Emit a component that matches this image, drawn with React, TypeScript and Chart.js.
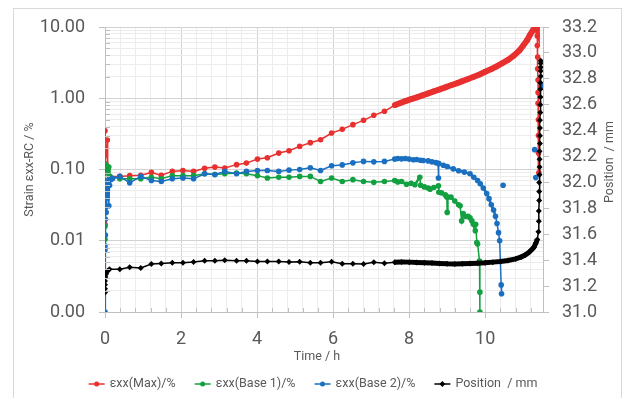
import React, { useEffect, useRef } from 'react';
import { Chart, registerables } from 'chart.js';

Chart.register(...registerables);

// ---------- data ----------
const COLORS = { max: '#e8302f', base1: '#12a040', base2: '#1a6fc0', pos: '#000000' };
const LEGEND_LABELS = ['\u03b5xx(Max)/%', '\u03b5xx(Base 1)/%', '\u03b5xx(Base 2)/%', 'Position  / mm'];
const X_TITLE = 'Time / h';
const Y_TITLE = 'Strain \u03b5xx-RC / %';
const Y1_TITLE = 'Position  / mm';

const xTickValues = [0, 0.4, 0.8, 1.2, 1.6, 2, 2.4, 2.8, 3.2, 3.6, 4, 4.4, 4.8, 5.2, 5.6, 6, 6.4, 6.8, 7.2, 7.6, 8, 8.4, 8.8, 9.2, 9.6, 10, 10.4, 10.8, 11.2];
const xMajorTicks = [0, 2, 4, 6, 8, 10];
const yDecades = [0.001, 0.01, 0.1, 1, 10];
const yMinorMultipliers = [2, 3, 4, 5, 6, 7, 8, 9];

// shared sampling times (sparse part of the test)
const sparseT = [0.39, 0.65, 0.94, 1.22, 1.48, 1.77, 2.05, 2.33, 2.62, 2.89, 3.15, 3.46, 3.72, 4.01, 4.27, 4.57, 4.84, 5.12, 5.4, 5.67, 5.96, 6.24, 6.52, 6.8, 7.07, 7.35];

// εxx(Max)
const maxStartT = [0, 0, 0, 0, 0.02, 0.06, 0.07, 0.12];
const maxStartV = [0.017, 0.05, 0.16, 0.35, 0.12, 0.26, 0.1, 0.08];
const maxSparse = [0.08, 0.082, 0.083, 0.091, 0.083, 0.094, 0.097, 0.094, 0.104, 0.108, 0.105, 0.117, 0.123, 0.14, 0.146, 0.17, 0.183, 0.211, 0.238, 0.262, 0.325, 0.366, 0.426, 0.49, 0.576, 0.656];
const maxDenseT = [7.62, 7.75, 7.9, 8.05, 8.2, 8.35, 8.5, 8.65, 8.8, 8.95, 9.1, 9.25, 9.4, 9.55, 9.7, 9.85, 10.0, 10.15, 10.3, 10.45, 10.6, 10.75, 10.9, 11.0, 11.1, 11.18, 11.25, 11.3, 11.34, 11.36, 11.37, 11.37, 11.38, 11.38, 11.39, 11.39, 11.39, 11.4, 11.4, 11.4, 11.41];
const maxDenseV = [0.8, 0.85, 0.91, 0.97, 1.03, 1.1, 1.17, 1.25, 1.33, 1.42, 1.52, 1.62, 1.74, 1.86, 2.0, 2.15, 2.35, 2.55, 2.8, 3.1, 3.45, 3.95, 4.7, 5.5, 6.5, 7.8, 8.9, 9.8, 10.3, 9.6, 7.5, 5.5, 3.8, 2.6, 1.8, 1.2, 0.85, 0.5, 0.3, 0.17, 0.09];

// εxx(Base 1)
const base1StartT = [0, 0, 0.01, 0.01, 0.02, 0.02, 0.04, 0.06, 0.08, 0.1, 0.13];
const base1StartV = [0.0105, 0.016, 0.03, 0.06, 0.09, 0.117, 0.1, 0.11, 0.095, 0.108, 0.08];
const base1Sparse = [0.074, 0.074, 0.074, 0.078, 0.074, 0.082, 0.082, 0.082, 0.087, 0.085, 0.087, 0.089, 0.087, 0.082, 0.076, 0.078, 0.078, 0.08, 0.08, 0.068, 0.076, 0.068, 0.072, 0.068, 0.066, 0.068];
const base1DenseT = [7.62, 7.7, 7.8, 7.93, 8.05, 8.15, 8.28, 8.3, 8.4, 8.5, 8.55, 8.65, 8.77, 8.78, 8.85, 8.95, 8.99, 9.0, 9.02, 9.1, 9.2, 9.3, 9.34, 9.38, 9.42, 9.47, 9.55, 9.6, 9.65, 9.69, 9.74, 9.75, 9.78, 9.8, 9.85, 9.86, 9.86];
const base1DenseV = [0.07, 0.067, 0.068, 0.062, 0.064, 0.061, 0.078, 0.06, 0.057, 0.055, 0.053, 0.056, 0.059, 0.048, 0.047, 0.044, 0.041, 0.025, 0.041, 0.041, 0.036, 0.032, 0.031, 0.019, 0.024, 0.022, 0.022, 0.021, 0.019, 0.017, 0.0138, 0.017, 0.0094, 0.009, 0.0052, 0.0019, 0.001];

// εxx(Base 2)
const base2StartT = [0, 0, 0, 0.01, 0.01, 0.02, 0.02, 0.03, 0.04, 0.05, 0.06, 0.08, 0.1, 0.12, 0.15, 0.2];
const base2StartV = [0.001, 0.0075, 0.0085, 0.012, 0.02, 0.03, 0.045, 0.025, 0.055, 0.065, 0.04, 0.07, 0.031, 0.06, 0.072, 0.075];
const base2Sparse = [0.08, 0.065, 0.08, 0.07, 0.068, 0.074, 0.076, 0.074, 0.087, 0.085, 0.094, 0.087, 0.094, 0.097, 0.097, 0.094, 0.098, 0.1, 0.106, 0.097, 0.113, 0.116, 0.124, 0.13, 0.128, 0.13];
const base2DenseT = [7.62, 7.7, 7.8, 7.9, 8.0, 8.11, 8.2, 8.3, 8.37, 8.5, 8.6, 8.7, 8.76, 8.77, 8.78, 8.9, 9.0, 9.16, 9.3, 9.45, 9.6, 9.7, 9.8, 9.87, 9.95, 10.04, 10.1, 10.16, 10.22, 10.27, 10.31, 10.35, 10.38, 10.42, 10.43];
const base2DenseV = [0.14, 0.143, 0.141, 0.143, 0.14, 0.137, 0.138, 0.135, 0.134, 0.132, 0.128, 0.125, 0.122, 0.076, 0.121, 0.115, 0.11, 0.102, 0.096, 0.092, 0.087, 0.078, 0.07, 0.063, 0.055, 0.046, 0.039, 0.032, 0.027, 0.022, 0.0175, 0.013, 0.01, 0.0024, 0.0018];
const base2IsolatedT = [10.47, 11.3, 11.33, 11.48];
const base2IsolatedV = [0.06, 0.19, 0.077, 1.5];

// Position / mm
const posStartT = [0, 0, 0, 0, 0.01, 0.02, 0.03, 0.05, 0.08, 0.12];
const posStartV = [31.15, 31.18, 31.21, 31.24, 31.27, 31.29, 31.3, 31.31, 31.32, 31.33];
const posSparse = [31.33, 31.345, 31.34, 31.37, 31.375, 31.38, 31.38, 31.386, 31.396, 31.396, 31.4, 31.395, 31.395, 31.39, 31.39, 31.39, 31.386, 31.388, 31.381, 31.381, 31.388, 31.373, 31.373, 31.371, 31.384, 31.376];
const posDenseT = [7.62, 7.8, 8.0, 8.2, 8.4, 8.6, 8.8, 9.0, 9.2, 9.4, 9.6, 9.8, 10.0, 10.2, 10.4, 10.6, 10.8, 10.95, 11.05, 11.15, 11.22, 11.28, 11.33, 11.37, 11.4];
const posDenseV = [31.384, 31.386, 31.385, 31.383, 31.38, 31.378, 31.375, 31.372, 31.371, 31.372, 31.374, 31.377, 31.38, 31.385, 31.39, 31.398, 31.41, 31.425, 31.44, 31.46, 31.48, 31.5, 31.53, 31.56, 31.62];
const posClimbT = [11.41, 11.41, 11.42, 11.42, 11.42, 11.43, 11.43, 11.43, 11.43, 11.44, 11.44, 11.44, 11.44, 11.45, 11.45, 11.45, 11.45, 11.45, 11.46, 11.46, 11.46, 11.46, 11.46];
const posClimbV = [31.7, 31.78, 31.86, 31.93, 32.0, 32.06, 32.12, 32.18, 32.24, 32.3, 32.36, 32.42, 32.48, 32.54, 32.6, 32.66, 32.72, 32.77, 32.82, 32.86, 32.89, 32.92, 32.94];

// ---------- helpers ----------
type Pt = { x: number; y: number | null };
const zip = (ts: number[], vs: number[]): Pt[] => ts.map((t, i) => ({ x: t, y: vs[i] }));
const isolated = (ts: number[], vs: number[]): Pt[] =>
  ts.flatMap((t, i) => [{ x: t, y: null }, { x: t, y: vs[i] }]);

const maxData = [...zip(maxStartT, maxStartV), ...zip(sparseT, maxSparse), ...zip(maxDenseT, maxDenseV)];
const base1Data = [...zip(base1StartT, base1StartV), ...zip(sparseT, base1Sparse), ...zip(base1DenseT, base1DenseV)];
const base2Data = [...zip(base2StartT, base2StartV), ...zip(sparseT, base2Sparse), ...zip(base2DenseT, base2DenseV), ...isolated(base2IsolatedT, base2IsolatedV)];
const posData = [...zip(posStartT, posStartV), ...zip(sparseT, posSparse), ...zip(posDenseT, posDenseV), ...zip(posClimbT, posClimbV)];

const yTickValues: number[] = [];
yDecades.forEach((d, i) => {
  yTickValues.push(d);
  if (i < yDecades.length - 1) yMinorMultipliers.forEach((m) => yTickValues.push(d * m));
});

const isDecade = (v: number) => Math.abs(Math.log10(v) - Math.round(Math.log10(v))) < 1e-6;
const isXMajor = (v: number) => xMajorTicks.some((m) => Math.abs(m - v) < 1e-6);

const TEXT = '#595959';
const AXIS = '#bfbfbf';
const GRID_MAJOR = '#d2d2d2';
const GRID_MINOR = '#ececec';
const DENSE_FROM = 7.6;

const thickDense = (w: number) => (c: any) => {
  const ds = c.chart.data.datasets[c.datasetIndex].data as Pt[];
  const p = ds[c.p0DataIndex];
  const dx = Math.abs(c.p1.x - c.p0.x);
  const dy = Math.abs(c.p1.y - c.p0.y);
  if (p && p.x >= DENSE_FROM && dy <= 2.5 * dx + 2) return w;
  return undefined;
};

const decor = {
  id: 'decor',
  beforeDraw(chart: any) {
    const { ctx, width, height } = chart;
    ctx.save();
    ctx.fillStyle = '#ffffff';
    ctx.fillRect(0, 0, width, height);
    ctx.strokeStyle = '#d9d9d9';
    ctx.lineWidth = 1;
    ctx.strokeRect(13.5, 8.5, 608, height + 10);
    ctx.restore();
  },
  afterDraw(chart: any) {
    const { ctx, chartArea: a, scales } = chart;
    ctx.save();
    // minor inside ticks
    ctx.strokeStyle = AXIS;
    ctx.lineWidth = 1;
    ctx.beginPath();
    scales.x.ticks.forEach((t: any) => {
      if (isXMajor(t.value)) return;
      const px = Math.round(scales.x.getPixelForValue(t.value)) + 0.5;
      ctx.moveTo(px, a.bottom);
      ctx.lineTo(px, a.bottom - 4);
    });
    scales.y.ticks.forEach((t: any) => {
      if (isDecade(t.value)) return;
      const py = Math.round(scales.y.getPixelForValue(t.value)) + 0.5;
      ctx.moveTo(a.left, py);
      ctx.lineTo(a.left + 5, py);
    });
    ctx.stroke();

    // axis titles
    ctx.fillStyle = TEXT;
    ctx.font = '12.5px Roboto';
    ctx.textAlign = 'center';
    ctx.textBaseline = 'middle';
    ctx.fillText(X_TITLE, 317, 357);
    ctx.save();
    ctx.translate(30, (a.top + a.bottom) / 2);
    ctx.rotate(-Math.PI / 2);
    ctx.fillText(Y_TITLE, 0, 0);
    ctx.restore();
    ctx.save();
    ctx.translate(610, 162);
    ctx.rotate(-Math.PI / 2);
    ctx.fillText(Y1_TITLE, 0, 0);
    ctx.restore();

    // legend
    const colors = [COLORS.max, COLORS.base1, COLORS.base2, COLORS.pos];
    ctx.font = '12.5px Roboto';
    const lineW = 16, gap = 5, itemGap = 19;
    const widths = LEGEND_LABELS.map((l) => ctx.measureText(l).width);
    const total = widths.reduce((s, w) => s + lineW + gap + w, 0) + itemGap * (LEGEND_LABELS.length - 1);
    let x = 313 - total / 2;
    const y = 384;
    ctx.textAlign = 'left';
    LEGEND_LABELS.forEach((label, i) => {
      ctx.strokeStyle = colors[i];
      ctx.fillStyle = colors[i];
      ctx.lineWidth = 1.5;
      ctx.beginPath();
      ctx.moveTo(x, y);
      ctx.lineTo(x + lineW, y);
      ctx.stroke();
      ctx.beginPath();
      if (i === 3) {
        const cx = x + lineW / 2;
        ctx.moveTo(cx, y - 3);
        ctx.lineTo(cx + 3, y);
        ctx.lineTo(cx, y + 3);
        ctx.lineTo(cx - 3, y);
        ctx.closePath();
      } else {
        ctx.arc(x + lineW / 2, y, 2.5, 0, Math.PI * 2);
      }
      ctx.fill();
      ctx.fillStyle = TEXT;
      ctx.fillText(label, x + lineW + gap, y);
      x += lineW + gap + widths[i] + itemGap;
    });
    ctx.restore();
  },
};

function makeDataset(label: string, data: Pt[], color: string, axis: string, order: number, denseW: number, style: string, radius: number) {
  return {
    label,
    data,
    borderColor: color,
    backgroundColor: color,
    borderWidth: 1.5,
    pointRadius: radius,
    pointHoverRadius: radius,
    pointBorderWidth: 0,
    pointStyle: style,
    showLine: true,
    spanGaps: false,
    tension: 0,
    yAxisID: axis,
    order,
    segment: { borderWidth: thickDense(denseW) },
  };
}

export default function App() {
  const ref = useRef<HTMLCanvasElement>(null);

  useEffect(() => {
    if (!ref.current) return;
    Chart.defaults.font.family = 'Roboto';
    const chart = new Chart(ref.current, {
      type: 'line',
      data: {
        datasets: [
          makeDataset(LEGEND_LABELS[0], maxData, COLORS.max, 'y', 3, 6, 'circle', 2.8),
          makeDataset(LEGEND_LABELS[1], base1Data, COLORS.base1, 'y', 2, 2.5, 'circle', 2.8),
          makeDataset(LEGEND_LABELS[2], base2Data, COLORS.base2, 'y', 1, 2.5, 'circle', 2.8),
          makeDataset(LEGEND_LABELS[3], posData, COLORS.pos, 'y1', 0, 5, 'rectRot', 3),
        ] as any,
      },
      options: {
        animation: false,
        responsive: false,
        devicePixelRatio: 1,
        events: [],
        layout: { padding: { top: 27, left: 0, right: 0, bottom: 0 } },
        plugins: { legend: { display: false }, tooltip: { enabled: false }, title: { display: false } },
        scales: {
          x: {
            type: 'linear',
            min: 0,
            max: 11.52,
            afterBuildTicks: (s: any) => {
              s.ticks = xTickValues.map((v) => ({ value: v, major: isXMajor(v) }));
            },
            afterFit: (s: any) => {
              s.height = 86;
            },
            ticks: {
              autoSkip: false,
              maxRotation: 0,
              padding: 11,
              color: TEXT,
              font: { family: 'Roboto', size: 18 },
              callback: (v: any) => (isXMajor(Number(v)) ? String(Math.round(Number(v))) : ''),
            },
            grid: {
              color: (c: any) => (c.tick && isXMajor(c.tick.value) ? GRID_MAJOR : GRID_MINOR),
              tickColor: (c: any) => (c.tick && isXMajor(c.tick.value) ? AXIS : 'rgba(0,0,0,0)'),
              tickLength: 6,
            },
            border: { color: AXIS, width: 1 },
            title: { display: false },
          },
          y: {
            type: 'logarithmic',
            position: 'left',
            min: 0.001,
            max: 10,
            afterBuildTicks: (s: any) => {
              s.ticks = yTickValues.map((v) => ({ value: v, major: isDecade(v) }));
            },
            afterFit: (s: any) => {
              s.width = 105;
            },
            ticks: {
              autoSkip: false,
              padding: 14,
              color: TEXT,
              font: { family: 'Roboto', size: 18 },
              callback: (v: any) => (isDecade(Number(v)) ? Number(v).toFixed(2) : ''),
            },
            grid: {
              color: (c: any) => (c.tick && isDecade(c.tick.value) ? GRID_MAJOR : GRID_MINOR),
              tickColor: (c: any) => (c.tick && isDecade(c.tick.value) ? AXIS : 'rgba(0,0,0,0)'),
              tickLength: 6,
            },
            border: { color: AXIS, width: 1 },
            title: { display: false },
          },
          y1: {
            type: 'linear',
            position: 'right',
            min: 31,
            max: 33.2,
            afterFit: (s: any) => {
              s.width = 85;
            },
            ticks: {
              stepSize: 0.2,
              autoSkip: false,
              padding: 13,
              color: TEXT,
              font: { family: 'Roboto', size: 18 },
              callback: (v: any) => Number(v).toFixed(1),
            },
            grid: { drawOnChartArea: false, color: AXIS, tickLength: 6 },
            border: { color: AXIS, width: 1 },
            title: { display: false },
          },
        },
      } as any,
      plugins: [decor],
    });
    return () => chart.destroy();
  }, []);

  return (
    <div style={{ position: 'absolute', left: 0, top: 0, width: 628, height: 398 }}>
      <canvas ref={ref} width={628} height={398} style={{ display: 'block', width: 628, height: 398 }} />
    </div>
  );
}
